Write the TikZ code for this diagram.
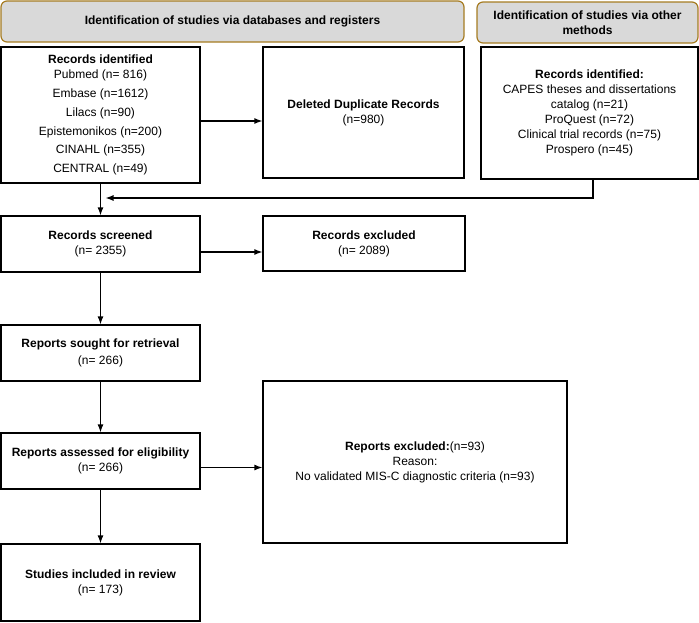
\documentclass[tikz,border=0pt]{standalone}
\usepackage{fontspec}
\setmainfont{Liberation Sans}
\usetikzlibrary{arrows.meta}
\definecolor{hdrfill}{HTML}{D9D9D9}
\definecolor{hdrline}{HTML}{A67C22}
\begin{document}
\begin{tikzpicture}[x=1pt,y=-1pt,
  every node/.style={font=\fontsize{12}{15}\selectfont, align=center, inner sep=0pt},
  hdr/.style={draw=hdrline, fill=hdrfill, line width=1.2pt, rounded corners=6pt},
  box/.style={draw=black, line width=1.2pt},
  arr/.style={draw=black, line width=1.3pt, -{Latex[length=8pt,width=6pt]}}]
\useasboundingbox (0,0) rectangle (699,622);
\node[hdr, minimum width=463pt, minimum height=41pt] (h1) at (232.5,21.5) {\textbf{Identification of studies via databases and registers}};
\node[hdr, minimum width=221pt, minimum height=41pt] (h2) at (587.5,22.5) {\textbf{Identification of studies via other}\\\textbf{methods}};
\node[box, minimum width=199pt, minimum height=136pt] (rec) at (100.5,115) {\textbf{Records identified}\\Pubmed (n= 816)\\[3.8pt]Embase (n=1612)\\[3.8pt]Lilacs (n=90)\\[3.8pt]Epistemonikos (n=200)\\[3.8pt]CINAHL (n=355)\\[3.8pt]CENTRAL (n=49)};
\node[box, minimum width=201pt, minimum height=131pt] (dup) at (363.5,112.5) {\textbf{Deleted Duplicate Records}\\(n=980)};
\node[box, minimum width=217pt, minimum height=132pt] (oth) at (589.5,113) {\textbf{Records identified:}\\CAPES theses and dissertations\\catalog (n=21)\\ProQuest (n=72)\\Clinical trial records (n=75)\\Prospero (n=45)};
\node[box, minimum width=199pt, minimum height=56pt] (scr) at (100.5,244) {\textbf{Records screened}\\(n= 2355)};
\node[box, minimum width=202pt, minimum height=55pt] (exc) at (364,243.5) {\textbf{Records excluded}\\(n= 2089)};
\node[box, minimum width=199pt, minimum height=56pt] (sou) at (100.5,353) {\textbf{Reports sought for retrieval}\\[1.7pt](n= 266)};
\node[box, minimum width=199pt, minimum height=56pt] (asd) at (100.5,461) {\textbf{Reports assessed for eligibility}\\(n= 266)};
\node[box, minimum width=304pt, minimum height=162pt] (rex) at (415,462) {\textbf{Reports excluded:}(n=93)\\Reason:\\No validated MIS-C diagnostic criteria (n=93)};
\node[box, minimum width=199pt, minimum height=77pt] (stu) at (100.5,582.5) {\textbf{Studies included in review}\\(n= 173)};
\coordinate (join) at (rec.south |- 0,198);
\draw[arr] ([yshift=-6pt]rec.east) -- ([yshift=-6pt]rec.east -| dup.west);
\draw[arr] (rec.south) -- (scr.north);
\draw[arr, shorten >=5pt] ([xshift=3.5pt]oth.south) |- (join);
\draw[arr] ([yshift=-8pt]scr.east) -- ([yshift=-8pt]scr.east -| exc.west);
\draw[arr] (scr.south) -- (sou.north);
\draw[arr] (sou.south) -- (asd.north);
\draw[arr] ([yshift=-6.5pt]asd.east) -- ([yshift=-6.5pt]asd.east -| rex.west);
\draw[arr] (asd.south) -- (stu.north);
\end{tikzpicture}
\end{document}
